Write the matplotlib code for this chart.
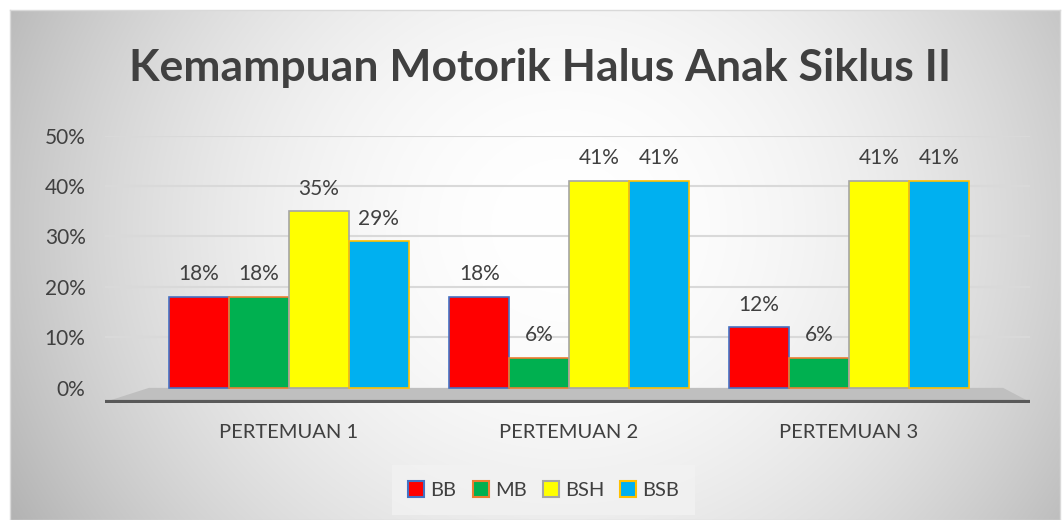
import numpy as np
import matplotlib
matplotlib.use("Agg")
import matplotlib.pyplot as plt
from matplotlib.patches import Patch, Polygon

# data
categories = ["PERTEMUAN 1", "PERTEMUAN 2", "PERTEMUAN 3"]
series = ["BB", "MB", "BSH", "BSB"]
bb = [0.18, 0.18, 0.12]
mb = [0.18, 0.06, 0.06]
bsh = [0.35, 0.41, 0.41]
bsb = [0.29, 0.41, 0.41]
y_ticks = [0.0, 0.1, 0.2, 0.3, 0.4, 0.5]

face_colors = ["#FF0000", "#00B050", "#FFFF00", "#00B0F0"]
edge_colors = ["#4472C4", "#ED7D31", "#A5A5A5", "#FFC000"]
text_color = "#404040"

plt.rcParams["font.family"] = ["Lato", "DejaVu Sans"]

W, H = 1062, 520
fig = plt.figure(figsize=(W / 100, H / 100), dpi=100)

# background: soft radial gradient, white in the middle, grey at the edges
bg = fig.add_axes([10 / W, 0, 1 - 12 / W, 1 - 10 / H])
yy, xx = np.mgrid[0:H, 0:W]
dist = np.sqrt(((xx - 560) / 600.0) ** 2 + ((yy - 220) / 560.0) ** 2)
shade = 1.0 - 0.26 * np.clip(dist, 0, 1.2) ** 2.0
bg.imshow(np.dstack([shade] * 3), aspect="auto", extent=(0, 1, 0, 1), origin="upper")
bg.set_xlim(0, 1)
bg.set_ylim(0, 1)
bg.set_xticks([])
bg.set_yticks([])
for s in bg.spines.values():
    s.set_color("#d9d9d9")
    s.set_linewidth(1)

# plot area
ax_left, ax_right = 105 / W, 1030 / W
ax_bottom, ax_top = 1 - 403 / H, 1 - 135.5 / H
ax = fig.add_axes([ax_left, ax_bottom, ax_right - ax_left, ax_top - ax_bottom])
ax.patch.set_alpha(0)
ax.set_xlim(-0.657, 2.646)
ax.set_ylim(-0.03, 0.5)

for t in y_ticks[1:]:
    ax.axhline(t, color="#d9d9d9", lw=1.5, zorder=0)

# grey floor and dark base line
x = np.arange(len(categories))
width = 0.214
ax.add_patch(Polygon([(-0.657, -0.028), (2.646, -0.028), (2.55, 0.0), (-0.5, 0.0)],
                     closed=True, facecolor="#bfbfbf", edgecolor="none", zorder=1))
ax.axhline(-0.028, color="#595959", lw=3, zorder=2)

all_values = [bb, mb, bsh, bsb]
for i, vals in enumerate(all_values):
    pos = x + (i - 1.5) * width
    bars = ax.bar(pos, vals, width, color=face_colors[i], edgecolor=edge_colors[i],
                  linewidth=1.2, zorder=3)
    for b, v in zip(bars, vals):
        ax.text(b.get_x() + b.get_width() / 2, v + 0.025, f"{v:.0%}",
                ha="center", va="bottom", fontsize=15, color=text_color, zorder=4)

ax.set_yticks(y_ticks)
ax.set_yticklabels([f"{t:.0%}" for t in y_ticks], fontsize=15, color=text_color)
ax.set_xticks(x)
ax.set_xticklabels(categories, fontsize=14.5, color=text_color)
ax.tick_params(axis="y", length=0, pad=14)
ax.tick_params(axis="x", length=0, pad=15)
for s in ax.spines.values():
    s.set_visible(False)

fig.text(0.509, 1 - 68 / H, "Kemampuan Motorik Halus Anak Siklus II", ha="center", va="center",
         fontsize=32, fontweight="bold", color=text_color)

handles = [Patch(facecolor=face_colors[i], edgecolor=edge_colors[i], linewidth=1.5, label=series[i])
           for i in range(len(series))]
leg = fig.legend(handles=handles, loc="center", bbox_to_anchor=(0.512, 1 - 490 / H), ncol=4,
                 frameon=True, fontsize=14.5, handlelength=0.8, handleheight=0.8,
                 handletextpad=0.3, columnspacing=0.8, borderpad=0.5)
leg.get_frame().set_facecolor("#f2f2f2")
leg.get_frame().set_edgecolor("none")
leg.get_frame().set_boxstyle("square")
for t in leg.get_texts():
    t.set_color(text_color)

plt.savefig("out.png", dpi=100)
